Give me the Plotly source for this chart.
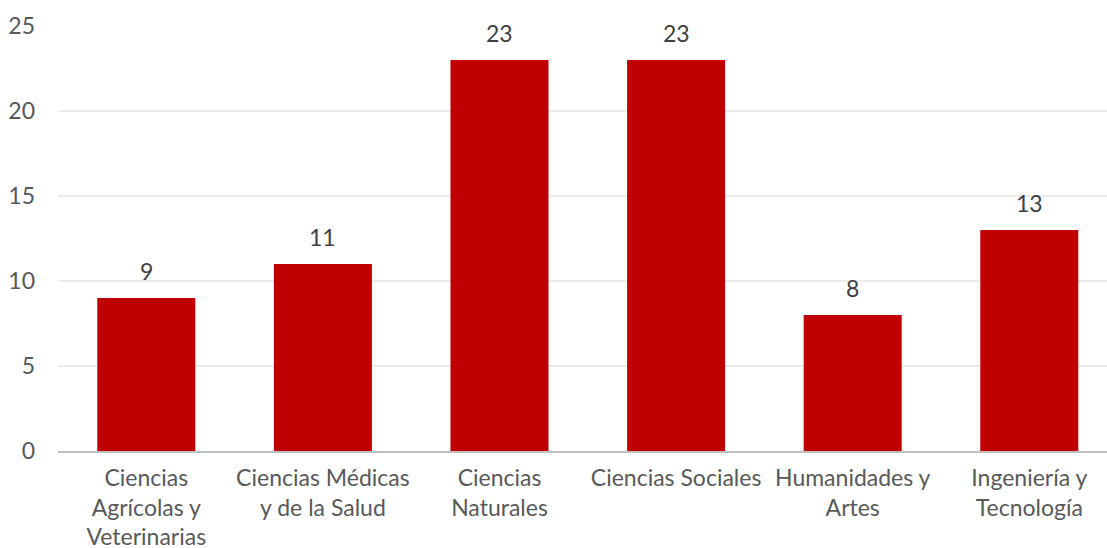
import plotly.graph_objects as go

categories = ["Ciencias<br>Agrícolas y<br>Veterinarias", "Ciencias Médicas<br>y de la Salud",
              "Ciencias<br>Naturales", "Ciencias Sociales", "Humanidades y<br>Artes",
              "Ingeniería y<br>Tecnología"]
values = [9, 11, 23, 23, 8, 13]
y_ticks = [0, 5, 10, 15, 20, 25]

FONT = "Lato"
SIZE = 23
fig = go.Figure()
fig.add_trace(go.Bar(
    x=categories, y=values, marker=dict(color="#C00000", line=dict(width=0)),
    width=0.555, hoverinfo="skip",
))
for c, v in zip(categories, values):
    fig.add_annotation(x=c, y=v, text=str(v), showarrow=False, yanchor="bottom",
                       yshift=11, font=dict(family=FONT, size=SIZE, color="#404040"))

fig.update_layout(
    width=1107, height=548,
    margin=dict(l=58, r=0, t=26, b=97),
    plot_bgcolor="white", paper_bgcolor="white",
    showlegend=False,
    font=dict(family=FONT, size=SIZE, color="#595959"),
    bargap=0.445,
)
fig.update_xaxes(range=[-0.5, 5.44], showline=True, linecolor="#BFBFBF", linewidth=2,
                 ticks="", showgrid=False, automargin=False, ticklabelstandoff=5,
                 tickfont=dict(size=SIZE, color="#595959"))
fig.update_yaxes(range=[0, 25], tickvals=y_ticks, showgrid=True, gridcolor="#EBEBEB",
                 gridwidth=1.5, zeroline=False, showline=False, ticks="", automargin=False,
                 ticklabelstandoff=22, tickfont=dict(size=SIZE, color="#595959"))
fig.write_html("out.html", config={"displayModeBar": False},
               post_script="document.body.style.margin='0';document.body.style.overflow='hidden';")
